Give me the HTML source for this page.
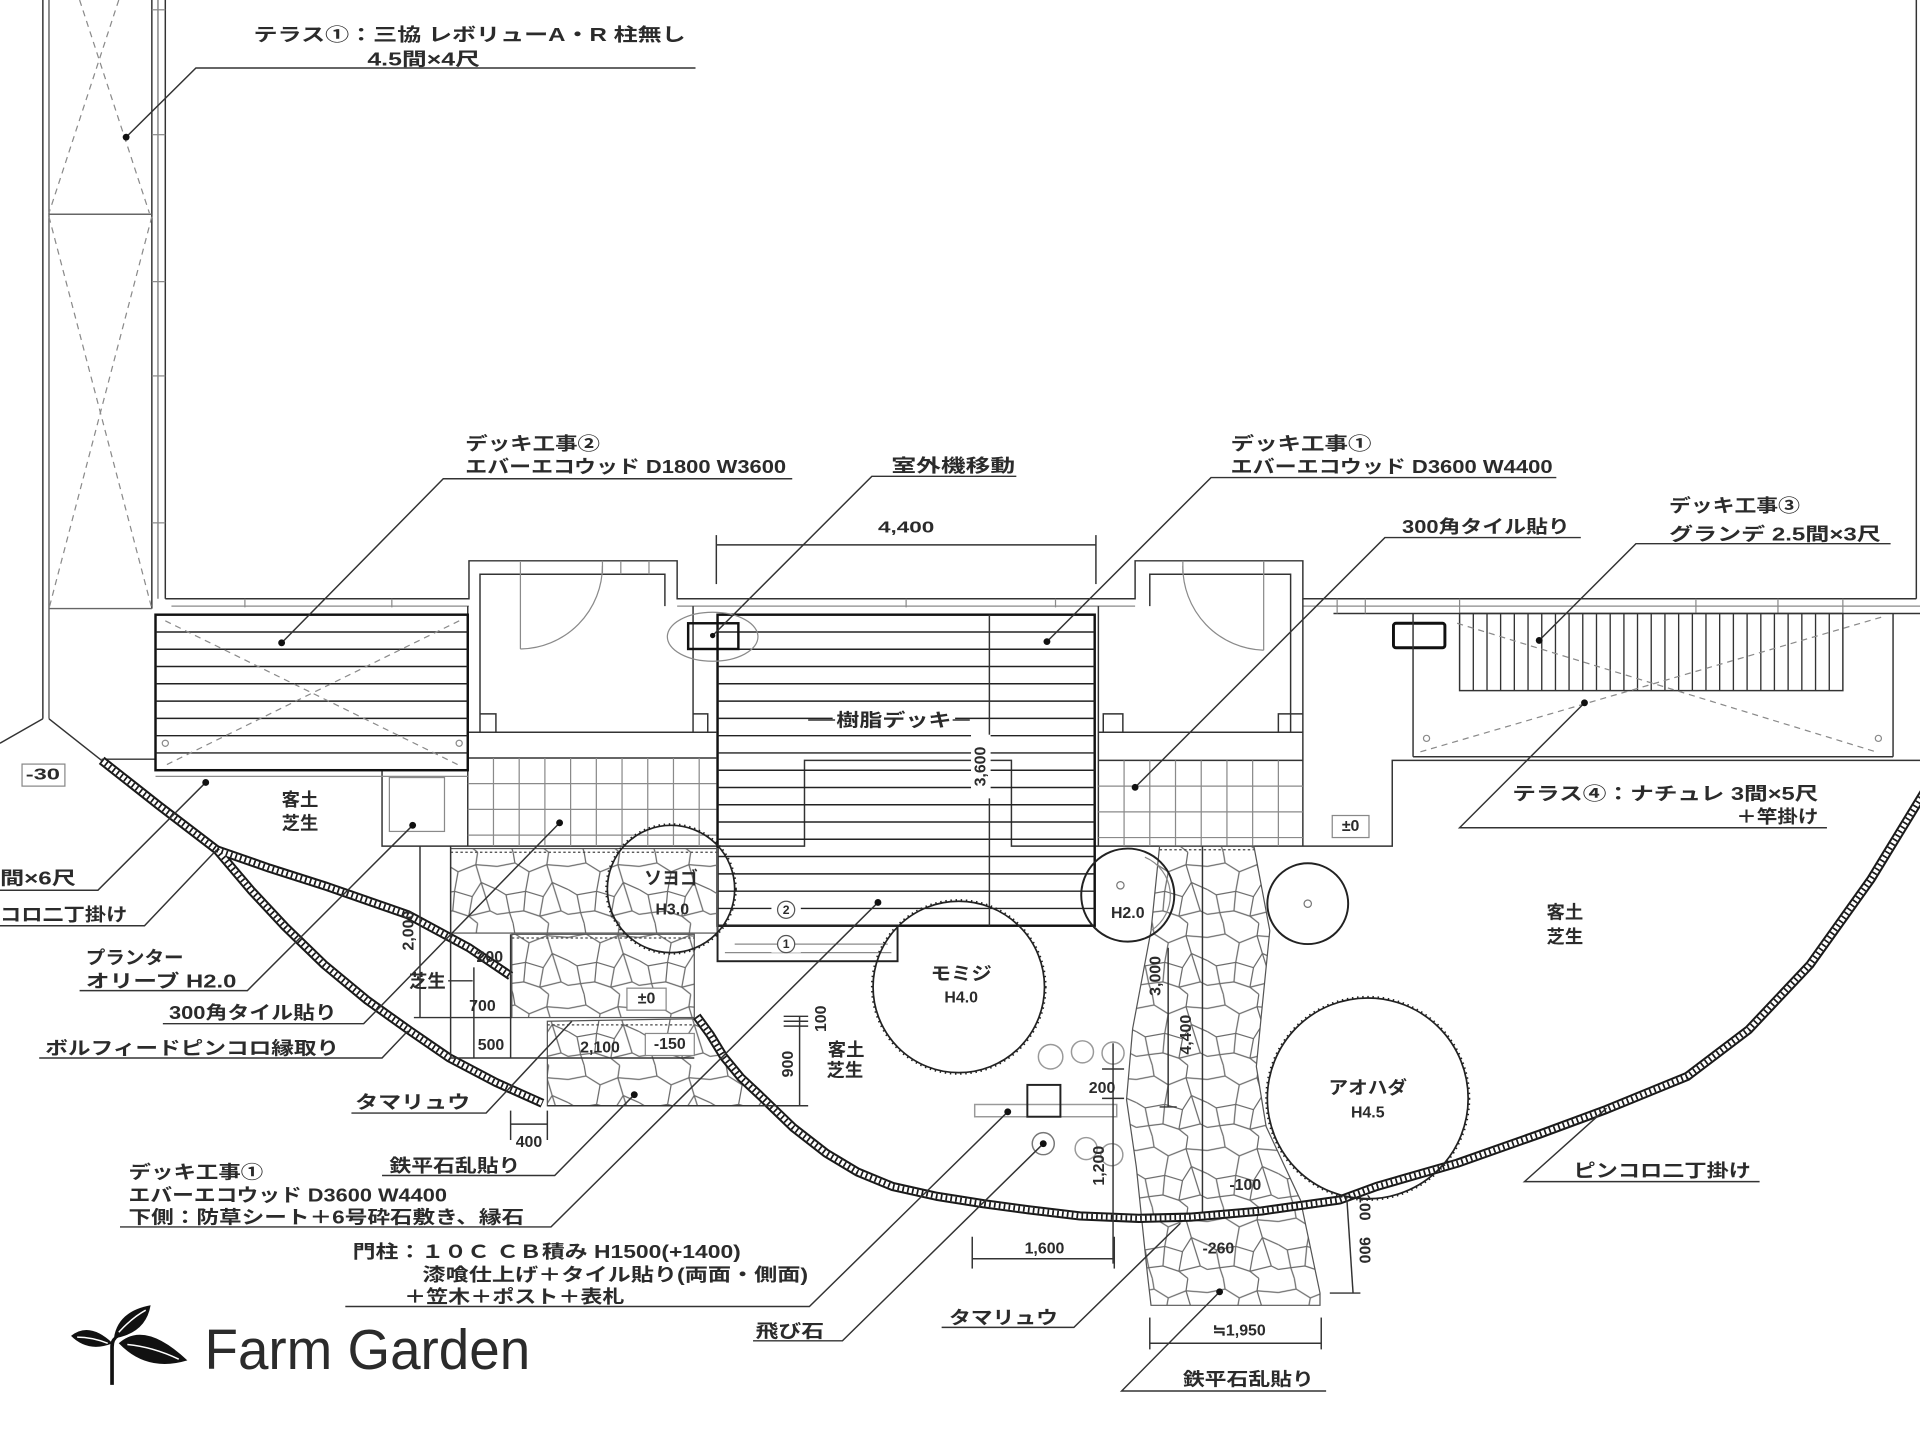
<!DOCTYPE html>
<html><head><meta charset="utf-8">
<style>
html,body{margin:0;padding:0;background:#fff;}
svg{display:block}
text{font-family:"Liberation Sans","Noto Sans CJK JP",sans-serif;fill:#2b2b2b;dominant-baseline:central;font-weight:bold;}
.t{font-size:15px;}
.s{font-size:13px;}
.l{fill:none;stroke:#333;stroke-width:1.2;}
.g{fill:none;stroke:#8a8a8a;stroke-width:1;}
.d{fill:none;stroke:#8a8a8a;stroke-width:1;stroke-dasharray:5 4;}
</style></head><body>
<svg width="1920" height="1440" viewBox="0 0 1568 1176" xmlns="http://www.w3.org/2000/svg">
<defs>
<pattern id="stone" width="40" height="40" patternUnits="userSpaceOnUse" patternTransform="scale(1.45)">
<path d="M0,8 L10,6 L18,11 L28,7 L40,8 M10,6 L9,0 M28,7 L29,0 M18,11 L16,22 L5,24 L0,21 M16,22 L26,25 L31,17 L40,21 M31,17 L28,7 M26,25 L24,36 L29,40 M5,24 L7,34 L0,35 M7,34 L9,40 M24,36 L15,33 L7,34 M15,33 L16,22 M24,36 L36,33 L40,35 M36,33 L31,17" fill="none" stroke="#6a6a6a" stroke-width="0.7"/>
</pattern>
</defs>
<rect width="1568" height="1176" fill="#fff"/>

<!-- Terrace 1 (left strip) -->
<g class="l">
<line x1="35" y1="0" x2="35" y2="587"/>
<line x1="40" y1="0" x2="40" y2="587" stroke="#666"/>
<line x1="124" y1="0" x2="124" y2="497"/>
<line x1="129" y1="0" x2="129" y2="489" stroke="#888"/>
<line x1="135" y1="0" x2="135" y2="489"/>
<line x1="40" y1="175" x2="124" y2="175" stroke="#666"/>
<line x1="40" y1="497" x2="124" y2="497" stroke="#666"/>
<line x1="35" y1="587" x2="0" y2="607"/>
<line x1="40" y1="587" x2="83" y2="621"/>
</g>
<g class="g">
<line x1="124" y1="8" x2="135" y2="8"/><line x1="124" y1="110" x2="135" y2="110"/><line x1="124" y1="230" x2="135" y2="230"/><line x1="124" y1="307" x2="135" y2="307"/><line x1="124" y1="427" x2="135" y2="427"/>
</g>
<g class="d">
<line x1="65" y1="0" x2="122" y2="174"/>
<line x1="97" y1="0" x2="40" y2="174"/>
<line x1="40" y1="177" x2="124" y2="497"/>
<line x1="124" y1="177" x2="40" y2="497"/>
</g>

<!-- Building walls -->
<g class="l">
<polyline points="135,489 383,489 383,458 553,458 553,489 927,489 927,458 1064,458 1064,489 1565,489"/>
<line x1="1565" y1="0" x2="1565" y2="489"/>
<polyline points="392,598 392,469 543,469 543,495"/>
<polyline points="939,495 939,469 1054,469 1054,598"/>
<line x1="1089" y1="501" x2="1568" y2="501"/>
</g>
<g class="g">
<line x1="140" y1="495" x2="383" y2="495"/>
<line x1="553" y1="495" x2="927" y2="495"/>
<line x1="1064" y1="495" x2="1568" y2="495"/>
<line x1="200" y1="489" x2="200" y2="496"/><line x1="320" y1="489" x2="320" y2="496"/>
<line x1="740" y1="489" x2="740" y2="496"/><line x1="862" y1="489" x2="862" y2="496"/>
<line x1="1092" y1="489" x2="1092" y2="501"/><line x1="1115" y1="489" x2="1115" y2="501"/>
<line x1="1192" y1="489" x2="1192" y2="501"/><line x1="1385" y1="489" x2="1385" y2="501"/>
<line x1="1452" y1="489" x2="1452" y2="501"/><line x1="1505" y1="489" x2="1505" y2="501"/>
<line x1="492" y1="458" x2="492" y2="469"/><line x1="507" y1="458" x2="507" y2="469"/><line x1="530" y1="458" x2="530" y2="469"/>
<line x1="966" y1="458" x2="966" y2="469"/><line x1="1032" y1="458" x2="1032" y2="469"/>
</g>
<!-- doors -->
<g class="g" stroke="#555">
<line x1="425" y1="459" x2="425" y2="530"/>
<path d="M425,530 A68,68 0 0 0 492,462"/>
<line x1="1032" y1="459" x2="1032" y2="531"/>
<path d="M1032,531 A68,68 0 0 1 966,462"/>
</g>
<!-- rooms / steps -->
<g class="l" stroke="#444">
<line x1="382" y1="495" x2="382" y2="691"/>
<line x1="566" y1="495" x2="566" y2="598"/>
<line x1="382" y1="598" x2="585" y2="598"/>
<line x1="382" y1="619" x2="585" y2="619"/>
<polyline points="392,583 405,583 405,598"/>
<polyline points="566,583 578,583 578,598"/>
<line x1="897" y1="495" x2="897" y2="691"/>
<line x1="1064" y1="489" x2="1064" y2="691"/>
<line x1="897" y1="598" x2="1064" y2="598"/>
<line x1="897" y1="621" x2="1064" y2="621"/>
<polyline points="901,598 901,583 917,583 917,598"/>
<polyline points="1044,598 1044,583 1064,583"/>
<polyline points="83,620 312,620 312,691 657,691 657,621 826,621 826,691 1137,691 1137,621 1568,621"/>
</g>
<!-- tiles -->
<g class="g" stroke="#555">
<path d="M403,619V691M424,619V691M445,619V691M466,619V691M487,619V691M508,619V691M529,619V691M550,619V691M571,619V691M382,640H585M382,661H585M382,682H585"/>
<path d="M918,621V691M939,621V691M960,621V691M981,621V691M1002,621V691M1023,621V691M1044,621V691M897,642H1064M897,663H1064M897,684H1064"/>
</g>
<!-- planter -->
<rect x="318" y="635" width="45" height="44" class="g" stroke="#666"/>
<line x1="127" y1="634" x2="382" y2="634" class="g"/>

<!-- Deck 2 -->
<g>
<rect x="127" y="502" width="255" height="127" fill="#fff" stroke="#111" stroke-width="2"/>
<path d="M127,516.1H382M127,530.2H382M127,544.3H382M127,558.4H382M127,572.6H382M127,586.7H382M127,600.8H382M127,614.9H382" stroke="#222" stroke-width="1.2"/>
<line x1="135" y1="507" x2="375" y2="625" class="d"/>
<line x1="375" y1="507" x2="135" y2="625" class="d"/>
<circle cx="135" cy="607" r="2.5" class="g"/><circle cx="375" cy="607" r="2.5" class="g"/>
</g>

<!-- Main deck -->
<g>
<rect x="586" y="502" width="308" height="254" fill="none" stroke="#111" stroke-width="2"/>
<path d="M586,516.1H894M586,530.2H894M586,544.3H894M586,558.4H894M586,572.6H894M586,586.7H894M586,600.8H894M586,614.9H894M586,629H894M586,643.1H894M586,657.2H894M586,671.3H894M586,685.4H894M586,699.5H894M586,713.7H894M586,727.8H894M586,741.9H894" stroke="#222" stroke-width="1.2"/>
<line x1="808" y1="502" x2="808" y2="756" stroke="#333" stroke-width="1.2"/>
<rect x="586" y="756" width="147" height="29" fill="none" stroke="#222" stroke-width="1.6"/>
<line x1="592" y1="778" x2="728" y2="778" class="g"/>
<rect x="680" y="580" width="100" height="16" fill="#fff"/>
<line x1="660" y1="588" x2="682" y2="588" class="l"/><line x1="778" y1="588" x2="792" y2="588" class="l"/>
<rect x="793" y="600" width="16" height="52" fill="#fff"/>
<rect x="630" y="736" width="24" height="14" fill="#fff"/>
<rect x="630" y="764" width="24" height="14" fill="#fff"/>
<line x1="600" y1="771" x2="725" y2="771" class="g"/>
<circle cx="642" cy="743" r="7" fill="#fff" stroke="#555"/>
<circle cx="642" cy="771" r="7" fill="#fff" stroke="#555"/>
</g>
<text x="642" y="743" font-size="10" text-anchor="middle">2</text>
<text x="642" y="771" font-size="10" text-anchor="middle">1</text>
<text class="t" x="683" y="588" textLength="94" lengthAdjust="spacingAndGlyphs">樹脂デッキ</text>
<text class="s" transform="translate(801,626) rotate(-90)" text-anchor="middle">3,600</text>

<!-- AC units -->
<ellipse cx="582" cy="520" rx="37" ry="20" class="g"/>
<rect x="562" y="509" width="41" height="21" fill="none" stroke="#111" stroke-width="2"/>
<rect x="1138" y="509" width="42" height="20" rx="2" fill="none" stroke="#111" stroke-width="2.4"/>

<!-- Deck 3 / terrace 4 -->
<g>
<line x1="1154" y1="501" x2="1154" y2="618" class="l" stroke="#555"/>
<line x1="1546" y1="501" x2="1546" y2="618" class="l" stroke="#555"/>
<line x1="1154" y1="618" x2="1546" y2="618" class="l" stroke="#555"/>
<rect x="1192" y="501" width="313" height="63" fill="none" stroke="#333" stroke-width="1.2"/>
<path d="M1203.2,501V564M1214.4,501V564M1225.5,501V564M1236.7,501V564M1247.9,501V564M1259.1,501V564M1270.3,501V564M1281.4,501V564M1292.6,501V564M1303.8,501V564M1315,501V564M1326.2,501V564M1337.3,501V564M1348.5,501V564M1359.7,501V564M1370.9,501V564M1382.1,501V564M1393.2,501V564M1404.4,501V564M1415.6,501V564M1426.8,501V564M1438,501V564M1449.1,501V564M1460.3,501V564M1471.5,501V564M1482.7,501V564M1493.9,501V564" stroke="#333" stroke-width="1.1"/>
<line x1="1190" y1="509" x2="1532" y2="614" class="d"/>
<line x1="1160" y1="614" x2="1540" y2="503" class="d"/>
<circle cx="1165" cy="603" r="2.5" class="g"/><circle cx="1534" cy="603" r="2.5" class="g"/>
</g>

<!-- stone areas -->
<g stroke="#555" stroke-width="1">
<rect x="368" y="693" width="218" height="69" fill="url(#stone)"/>
<rect x="418" y="763" width="149" height="68" fill="url(#stone)"/>
<polygon points="447,834 567,832 580,845 591,863 605,880 621,895 632,903 447,903" fill="url(#stone)"/>
<polygon points="947,691 1024,691 1037,760 1030,830 1026,871 1034,920 1062,980 1078,1056 1078,1066 940,1066 937,1040 928,953 920,898 925,840 940,760" fill="url(#stone)"/>
</g>
<g stroke="#444" stroke-width="1" stroke-dasharray="2 2" fill="none">
<line x1="368" y1="696" x2="586" y2="696"/>
<line x1="418" y1="766" x2="567" y2="766"/>
<line x1="447" y1="837" x2="567" y2="837"/>
<line x1="947" y1="694" x2="1024" y2="694"/>
</g>
<line x1="982" y1="691" x2="982" y2="994" class="l" stroke="#555"/>

<!-- pinkoro bands -->
<g fill="none" stroke-linejoin="round" stroke-linecap="butt">
<g id="bands">
<path d="M83,621 L130,658 L177,694"/>
<path d="M177,694 L220,709 L267,724 L333,747 L383,774 L417,797"/>
<path d="M177,694 L205,727 L233,757 L265,788 L300,817 L335,842 L367,864 L405,884 L443,901"/>
<path d="M569,830 L580,845 L591,863 L605,880 L621,895 L648,921 L675,942 L700,957 L729,969 L765,977 L803,983 L840,988 L882,993 L930,995 L972,994 L1030,989 L1094,980 L1124,969 L1190,950 L1258,926 L1312,906 L1378,879 L1428,841 L1478,788 L1528,718 L1572,646"/>
</g>
<use href="#bands" stroke="#1a1a1a" stroke-width="7.5"/>
<use href="#bands" stroke="#fff" stroke-width="4.2"/>
<use href="#bands" stroke="#1a1a1a" stroke-width="4.2" stroke-dasharray="1.4 2.6"/>
</g>

<!-- trees -->
<g fill="none" stroke="#222">
<circle cx="548" cy="726" r="52" stroke-width="1.4"/>
<circle cx="548" cy="726" r="53" stroke-width="1.5" stroke-dasharray="1.2 3"/>
<circle cx="783" cy="806" r="70" stroke-width="1.4"/>
<circle cx="783" cy="806" r="71" stroke-width="1.5" stroke-dasharray="1.2 3"/>
<circle cx="921" cy="731" r="38" stroke-width="1.6"/>
<path d="M935,700 A34,34 0 0 1 940,760" stroke="#888" stroke-width="1"/>
<circle cx="915" cy="723" r="3" stroke="#777" stroke-width="1"/>
<circle cx="1068" cy="738" r="33" stroke-width="1.6"/>
<circle cx="1068" cy="738" r="3" stroke="#777" stroke-width="1"/>
<circle cx="1117" cy="897" r="82" stroke-width="1.4"/>
<circle cx="1117" cy="897" r="83" stroke-width="1.5" stroke-dasharray="1.2 3"/>
</g>

<!-- stepping stones, gate -->
<g fill="none" stroke="#999" stroke-width="1.2">
<circle cx="858" cy="863" r="10"/><circle cx="884" cy="859" r="9"/><circle cx="909" cy="860" r="9"/>
<circle cx="887" cy="938" r="9"/><circle cx="908" cy="943" r="9"/>
<circle cx="852" cy="934" r="9" stroke="#777"/>
<rect x="796" y="902" width="116" height="10"/>
</g>
<rect x="839" y="886" width="27" height="26" fill="none" stroke="#222" stroke-width="1.6"/>

<!-- dimensions -->
<g class="l" stroke="#333" stroke-width="1">
<line x1="585" y1="445" x2="895" y2="445"/>
<line x1="585" y1="437" x2="585" y2="477"/>
<line x1="895" y1="437" x2="895" y2="477"/>
<line x1="343" y1="691" x2="343" y2="831"/>
<line x1="368" y1="691" x2="368" y2="864"/>
<line x1="387" y1="790" x2="387" y2="864"/>
<line x1="417" y1="763" x2="417" y2="864"/>
<line x1="338" y1="831" x2="418" y2="831"/>
<line x1="368" y1="864" x2="567" y2="864"/>
<line x1="366" y1="801" x2="386" y2="801"/>
<line x1="417" y1="907" x2="417" y2="931"/>
<line x1="447" y1="907" x2="447" y2="931"/>
<line x1="417" y1="918" x2="447" y2="918"/>
<line x1="653" y1="830" x2="653" y2="903"/>
<line x1="640" y1="830" x2="660" y2="830"/><line x1="640" y1="834" x2="660" y2="834"/><line x1="640" y1="838" x2="660" y2="838"/>
<line x1="447" y1="903" x2="660" y2="903"/>
<line x1="954" y1="774" x2="954" y2="904"/>
<line x1="947" y1="904" x2="961" y2="904"/>
<line x1="909" y1="852" x2="909" y2="1032"/>
<line x1="900" y1="873" x2="918" y2="873"/><line x1="900" y1="897" x2="918" y2="897"/>
<line x1="794" y1="1028" x2="910" y2="1028"/>
<line x1="794" y1="1010" x2="794" y2="1036"/><line x1="910" y1="1010" x2="910" y2="1036"/>
<line x1="939" y1="1097" x2="1079" y2="1097"/>
<line x1="939" y1="1076" x2="939" y2="1102"/><line x1="1079" y1="1076" x2="1079" y2="1102"/>
<line x1="1100" y1="980" x2="1105" y2="1056"/>
<line x1="1086" y1="1056" x2="1111" y2="1056"/>
</g>

<!-- value boxes -->
<g fill="#fff" stroke="#888" stroke-width="1">
<rect x="18" y="624" width="35" height="18"/>
<rect x="1088" y="666" width="30" height="18"/>
<rect x="512" y="807" width="32" height="18"/>
<rect x="527" y="844" width="40" height="18"/>
</g>

<!-- leaders -->
<g class="l" stroke="#333" stroke-width="1.1">
<polyline points="103,112 160,55.5 568,55.5"/>
<polyline points="230,525 362,391 647,391"/>
<polyline points="582,519 712,389 830,389"/>
<polyline points="855,524 989,390 1271,390"/>
<polyline points="927,643 1131,439 1291,439"/>
<polyline points="1257,523 1336,444 1544,444"/>
<polyline points="1294,574 1192,676 1492,676"/>
<polyline points="1312,905 1245,965 1437,965"/>
<polyline points="168,639 80,727 0,727"/>
<polyline points="177,694 118,756 0,756"/>
<polyline points="337,674 202,809 65,809"/>
<polyline points="457,672 297,836 133,836"/>
<polyline points="333,842 312,864 32,864"/>
<polyline points="467,834 397,909 287,909"/>
<polyline points="518,894 453,960 312,960"/>
<polyline points="717,737 450,1002 98,1002"/>
<polyline points="823,908 661,1067 282,1067"/>
<polyline points="852,934 688,1095 615,1095"/>
<polyline points="964,999 877,1084 769,1084"/>
<polyline points="996,1055 916,1136 1083,1136"/>
</g>
<g fill="#111">
<circle cx="103" cy="112" r="2.8"/><circle cx="230" cy="525" r="2.8"/><circle cx="582" cy="519" r="2.2"/>
<circle cx="855" cy="524" r="2.8"/><circle cx="927" cy="643" r="2.8"/><circle cx="1257" cy="523" r="2.8"/>
<circle cx="1294" cy="574" r="2.8"/><circle cx="168" cy="639" r="2.8"/><circle cx="337" cy="674" r="2.8"/>
<circle cx="457" cy="672" r="2.8"/><circle cx="518" cy="894" r="2.8"/><circle cx="717" cy="737" r="2.8"/>
<circle cx="823" cy="908" r="2.8"/><circle cx="852" cy="934" r="2.8"/><circle cx="996" cy="1055" r="2.8"/>
</g>

<!-- labels -->
<text class="t" x="207" y="28" textLength="353" lengthAdjust="spacingAndGlyphs">テラス①：三協 レボリューA・R 柱無し</text>
<text class="t" x="300" y="48" textLength="92" lengthAdjust="spacingAndGlyphs">4.5間×4尺</text>
<text class="t" x="380" y="362" textLength="110" lengthAdjust="spacingAndGlyphs">デッキ工事②</text>
<text class="t" x="380" y="381" textLength="262" lengthAdjust="spacingAndGlyphs">エバーエコウッド D1800 W3600</text>
<text class="t" x="728" y="380" textLength="101" lengthAdjust="spacingAndGlyphs">室外機移動</text>
<text class="s" x="717" y="431" textLength="46" lengthAdjust="spacingAndGlyphs">4,400</text>
<text class="t" x="1005" y="362" textLength="115" lengthAdjust="spacingAndGlyphs">デッキ工事①</text>
<text class="t" x="1005" y="381" textLength="263" lengthAdjust="spacingAndGlyphs">エバーエコウッド D3600 W4400</text>
<text class="t" x="1145" y="430" textLength="137" lengthAdjust="spacingAndGlyphs">300角タイル貼り</text>
<text class="t" x="1363" y="413" textLength="107" lengthAdjust="spacingAndGlyphs">デッキ工事③</text>
<text class="t" x="1363" y="436" textLength="173" lengthAdjust="spacingAndGlyphs">グランデ 2.5間×3尺</text>
<text class="t" x="1235" y="648" textLength="250" lengthAdjust="spacingAndGlyphs">テラス④：ナチュレ 3間×5尺</text>
<text class="t" x="1418" y="667" textLength="67" lengthAdjust="spacingAndGlyphs">＋竿掛け</text>
<text class="s" x="35" y="633" text-anchor="middle" textLength="28" lengthAdjust="spacingAndGlyphs">-30</text>
<text class="t" x="245" y="653" text-anchor="middle">客土</text>
<text class="t" x="245" y="672" text-anchor="middle">芝生</text>
<text class="s" x="1103" y="675" text-anchor="middle">±0</text>
<text class="t" x="1278" y="745" text-anchor="middle">客土</text>
<text class="t" x="1278" y="765" text-anchor="middle">芝生</text>
<text class="t" x="0" y="717" textLength="62" lengthAdjust="spacingAndGlyphs">間×6尺</text>
<text class="t" x="0" y="747" textLength="104" lengthAdjust="spacingAndGlyphs">コロ二丁掛け</text>
<text class="t" x="70" y="782" textLength="80" lengthAdjust="spacingAndGlyphs">プランター</text>
<text class="t" x="70" y="801" textLength="123" lengthAdjust="spacingAndGlyphs">オリーブ H2.0</text>
<text class="t" x="138" y="827" textLength="137" lengthAdjust="spacingAndGlyphs">300角タイル貼り</text>
<text class="t" x="37" y="856" textLength="240" lengthAdjust="spacingAndGlyphs">ボルフィードピンコロ縁取り</text>
<text class="t" x="290" y="900" textLength="94" lengthAdjust="spacingAndGlyphs">タマリュウ</text>
<text class="t" x="318" y="952" textLength="107" lengthAdjust="spacingAndGlyphs">鉄平石乱貼り</text>
<text class="t" x="105" y="957" textLength="110" lengthAdjust="spacingAndGlyphs">デッキ工事①</text>
<text class="t" x="105" y="976" textLength="260" lengthAdjust="spacingAndGlyphs">エバーエコウッド D3600 W4400</text>
<text class="t" x="105" y="994" textLength="323" lengthAdjust="spacingAndGlyphs">下側：防草シート＋6号砕石敷き、縁石</text>
<text class="t" x="288" y="1022" textLength="317" lengthAdjust="spacingAndGlyphs">門柱：１０Ｃ ＣＢ積み H1500(+1400)</text>
<text class="t" x="345" y="1041" textLength="315" lengthAdjust="spacingAndGlyphs">漆喰仕上げ＋タイル貼り(両面・側面)</text>
<text class="t" x="330" y="1059" textLength="180" lengthAdjust="spacingAndGlyphs">＋笠木＋ポスト＋表札</text>
<text class="t" x="617" y="1087" textLength="56" lengthAdjust="spacingAndGlyphs">飛び石</text>
<text class="t" x="775" y="1076" textLength="89" lengthAdjust="spacingAndGlyphs">タマリュウ</text>
<text class="t" x="966" y="1126" textLength="107" lengthAdjust="spacingAndGlyphs">鉄平石乱貼り</text>
<text class="t" x="1285" y="956" textLength="145" lengthAdjust="spacingAndGlyphs">ピンコロ二丁掛け</text>

<!-- tree labels -->
<text class="t" x="548" y="717" text-anchor="middle" textLength="44" lengthAdjust="spacingAndGlyphs">ソヨゴ</text>
<text class="s" x="549" y="743" text-anchor="middle">H3.0</text>
<text class="t" x="785" y="795" text-anchor="middle" textLength="50" lengthAdjust="spacingAndGlyphs">モミジ</text>
<text class="s" x="785" y="815" text-anchor="middle">H4.0</text>
<text class="s" x="921" y="746" text-anchor="middle">H2.0</text>
<text class="t" x="1117" y="888" text-anchor="middle" textLength="64" lengthAdjust="spacingAndGlyphs">アオハダ</text>
<text class="s" x="1117" y="909" text-anchor="middle">H4.5</text>

<!-- dimension texts -->
<text class="s" transform="translate(334,760) rotate(-90)" text-anchor="middle">2,000</text>
<text class="s" x="400" y="782" text-anchor="middle">200</text>
<text class="t" x="349" y="801" text-anchor="middle" font-size="14">芝生</text>
<text class="s" x="394" y="822" text-anchor="middle">700</text>
<text class="s" x="401" y="854" text-anchor="middle">500</text>
<text class="s" x="432" y="933" text-anchor="middle">400</text>
<text class="s" x="528" y="816" text-anchor="middle">±0</text>
<text class="s" x="490" y="856" text-anchor="middle">2,100</text>
<text class="s" x="547" y="853" text-anchor="middle">-150</text>
<text class="s" transform="translate(644,869) rotate(-90)" text-anchor="middle">900</text>
<text class="s" transform="translate(671,832) rotate(-90)" text-anchor="middle">100</text>
<text class="t" x="691" y="857" text-anchor="middle" font-size="14">客土</text>
<text class="t" x="690" y="874" text-anchor="middle" font-size="14">芝生</text>
<text class="s" x="900" y="889" text-anchor="middle">200</text>
<text class="s" transform="translate(898,952) rotate(-90)" text-anchor="middle">1,200</text>
<text class="s" transform="translate(944,797) rotate(-90)" text-anchor="middle">3,000</text>
<text class="s" transform="translate(969,845) rotate(-90)" text-anchor="middle">4,400</text>
<text class="s" x="853" y="1020" text-anchor="middle">1,600</text>
<text class="s" x="1012" y="1087" text-anchor="middle">≒1,950</text>
<text class="s" x="1017" y="968" text-anchor="middle">-100</text>
<text class="s" x="995" y="1020" text-anchor="middle">-260</text>
<text class="s" transform="translate(1114,986) rotate(90)" text-anchor="middle">100</text>
<text class="s" transform="translate(1114,1021) rotate(90)" text-anchor="middle">900</text>

<!-- logo -->
<g fill="#111">
<path d="M93,1131 L93,1100 Q93,1094 97,1092 L95,1091 Q90,1093 90,1100 L90,1131 Z"/>
<path d="M93,1093 Q96,1071 123,1066 Q119,1089 93,1093 Z"/>
<path d="M58,1091 Q73,1079 92,1097 Q72,1105 58,1091 Z"/>
<path d="M97,1097 Q118,1078 153,1111 Q120,1121 97,1097 Z"/>
</g>
<g stroke="#fff" stroke-width="1.2" fill="none">
<path d="M97,1088 Q108,1076 119,1070"/>
<path d="M63,1092 Q75,1092 88,1097"/>
<path d="M104,1098 Q125,1100 146,1110"/>
</g>
<text x="167" y="1118" font-size="46" style="dominant-baseline:alphabetic;font-weight:normal" fill="#222" textLength="266" lengthAdjust="spacingAndGlyphs">Farm Garden</text>
</svg>
</body></html>
